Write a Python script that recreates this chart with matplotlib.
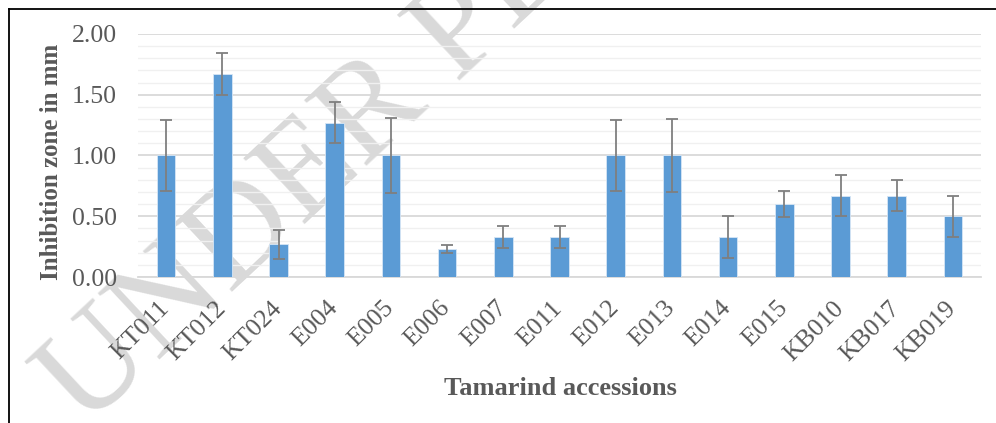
import matplotlib
matplotlib.use("Agg")
import matplotlib.pyplot as plt
import matplotlib.transforms as mtransforms
import numpy as np
from matplotlib.ticker import MultipleLocator, FormatStrFormatter

categories = ["KT011", "KT012", "KT024", "E004", "E005", "E006", "E007", "E011",
              "E012", "E013", "E014", "E015", "KB010", "KB017", "KB019"]
means = [1.00, 1.67, 0.27, 1.27, 1.00, 0.23, 0.33, 0.33,
         1.00, 1.00, 0.33, 0.60, 0.67, 0.67, 0.50]
errors = [0.29, 0.17, 0.12, 0.17, 0.31, 0.03, 0.09, 0.09,
          0.29, 0.30, 0.17, 0.11, 0.17, 0.13, 0.17]

W, H = 996, 423
fig = plt.figure(figsize=(W / 100, H / 100), dpi=100)
serif = ["Liberation Serif", "DejaVu Serif"]

# watermark (behind everything)
fig.text(85 / W, 1 - 430 / H, "UNDER PEER REVIEW", family=serif, fontsize=99,
         color="#d9d9d9", rotation=43, ha="left", va="baseline",
         rotation_mode="anchor", zorder=-5)

ax = fig.add_axes([138 / W, 1 - 277 / H, (981 - 138) / W, (277 - 34) / H])
ax.set_facecolor("none")
x = np.arange(len(categories))
ax.bar(x, means, width=0.33, color="#5b9bd5", edgecolor="#d6e6f5",
       linewidth=0.6, zorder=3)
ax.errorbar(x, means, yerr=errors, fmt="none", ecolor="#7f7f7f",
            elinewidth=1.3, capsize=4.5, capthick=1.3, zorder=4)

ax.set_xlim(-0.5, len(categories) - 0.5)
ax.set_ylim(0, 2.0)
ax.yaxis.set_major_locator(MultipleLocator(0.5))
ax.yaxis.set_minor_locator(MultipleLocator(0.1))
ax.yaxis.set_major_formatter(FormatStrFormatter("%.2f"))
ax.grid(axis="y", which="major", color="#d9d9d9", linewidth=1.3, zorder=1)
ax.grid(axis="y", which="minor", color="#f0f0f0", linewidth=1.0, zorder=1)
for s in ["top", "right", "left"]:
    ax.spines[s].set_visible(False)
ax.spines["bottom"].set_color("#d9d9d9")
ax.spines["bottom"].set_linewidth(1.3)
ax.tick_params(axis="both", which="both", length=0)
ax.tick_params(axis="y", pad=15)
ax.tick_params(axis="x", pad=14.4)
ax.set_xticks(x)
ax.set_xticklabels(categories, rotation=45, ha="right", va="top",
                   rotation_mode="anchor")
offset = mtransforms.ScaledTranslation(-8 / 100, 0, fig.dpi_scale_trans)
for lab in ax.get_xticklabels():
    lab.set_transform(lab.get_transform() + offset)
for lab in ax.get_yticklabels() + ax.get_xticklabels():
    lab.set_family(serif)
    lab.set_fontsize(18.5)
    lab.set_color("#595959")

fig.text(52 / W, 1 - 162 / H, "Inhibition zone in mm", family=serif,
         fontsize=18, fontweight="bold", color="#595959", rotation=90,
         ha="center", va="center")
fig.text(560 / W, 1 - 388 / H, "Tamarind accessions", family=serif,
         fontsize=19, fontweight="bold", color="#595959", ha="center",
         va="center")

# partial frame (top and left edges)
fig.add_artist(plt.Line2D([9 / W, 9 / W], [0, 1 - 9.5 / H], color="black",
                          linewidth=1.3, transform=fig.transFigure))
fig.add_artist(plt.Line2D([9 / W, 1], [1 - 9.5 / H, 1 - 9.5 / H], color="black",
                          linewidth=1.3, transform=fig.transFigure))

fig.savefig("out.png", dpi=100)
